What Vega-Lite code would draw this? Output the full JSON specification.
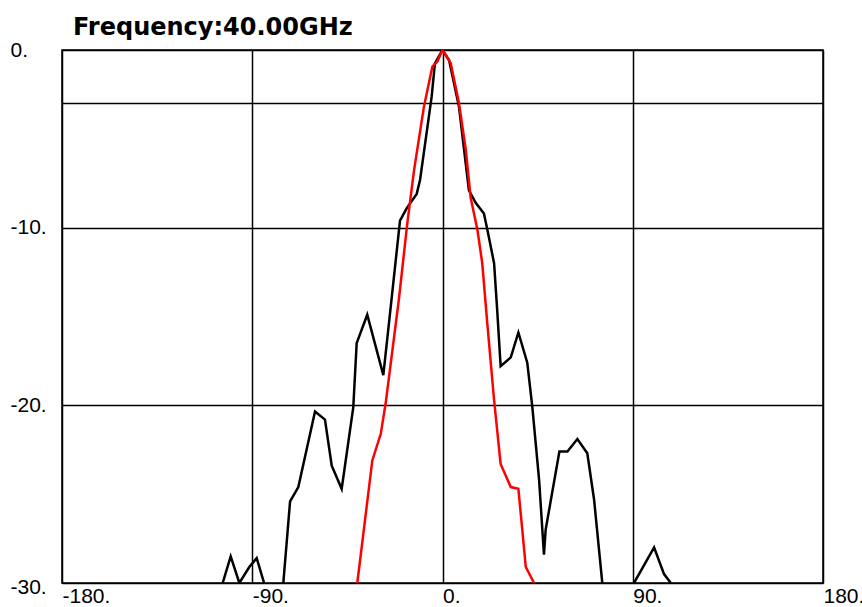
{
  "$schema": "https://vega.github.io/schema/vega-lite/v6.json",
  "autosize": {"type": "none"},
  "padding": {"left": 62, "top": 50, "right": 39, "bottom": 24},
  "width": 761,
  "height": 533,
  "background": "white",
  "title": {"text": "Frequency:40.00GHz", "anchor": "start", "frame": "group", "dx": 11, "dy": 26, "offset": 6, "baseline": "alphabetic", "font": "DejaVu Sans", "fontSize": 24, "fontWeight": "bold", "color": "black"},
  "config": {
    "view": {"stroke": "black", "strokeWidth": 1.5},
    "axis": {"labelFont": "Liberation Sans", "labelFontSize": 21, "labelColor": "black", "domain": false, "ticks": false, "tickSize": 0, "gridColor": "black", "gridOpacity": 1, "gridWidth": 1.5}
  },
  "data": {"values": [
    {"s": "meas", "x": -104, "y": -30},
    {"s": "meas", "x": -100.2, "y": -28.5},
    {"s": "meas", "x": -96.1, "y": -30},
    {"s": "meas", "x": -91.4, "y": -29.1},
    {"s": "meas", "x": -87.9, "y": -28.6},
    {"s": "meas", "x": -84.4, "y": -30},
    {"s": "meas", "x": -82, "y": -32},
    {"s": "meas", "x": -77, "y": -32},
    {"s": "meas", "x": -75.3, "y": -30},
    {"s": "meas", "x": -72.1, "y": -25.4},
    {"s": "meas", "x": -68.2, "y": -24.6},
    {"s": "meas", "x": -60.3, "y": -20.35},
    {"s": "meas", "x": -55.6, "y": -20.8},
    {"s": "meas", "x": -52.4, "y": -23.4},
    {"s": "meas", "x": -47.7, "y": -24.7},
    {"s": "meas", "x": -42.2, "y": -20.1},
    {"s": "meas", "x": -40.6, "y": -16.5},
    {"s": "meas", "x": -35.6, "y": -14.9},
    {"s": "meas", "x": -28, "y": -18.3},
    {"s": "meas", "x": -24.8, "y": -14.8},
    {"s": "meas", "x": -20.1, "y": -9.6},
    {"s": "meas", "x": -16.9, "y": -8.9},
    {"s": "meas", "x": -12.2, "y": -8.1},
    {"s": "meas", "x": -10.6, "y": -7.3},
    {"s": "meas", "x": -5.1, "y": -2.6},
    {"s": "meas", "x": -3.6, "y": -0.75},
    {"s": "meas", "x": 0, "y": 0},
    {"s": "meas", "x": 3.1, "y": -0.56},
    {"s": "meas", "x": 7.8, "y": -3.2},
    {"s": "meas", "x": 12.5, "y": -7.9},
    {"s": "meas", "x": 15.7, "y": -8.6},
    {"s": "meas", "x": 19.6, "y": -9.2},
    {"s": "meas", "x": 21.2, "y": -10.1},
    {"s": "meas", "x": 24.4, "y": -12},
    {"s": "meas", "x": 25.8, "y": -14.5},
    {"s": "meas", "x": 27.5, "y": -17.8},
    {"s": "meas", "x": 32.3, "y": -17.3},
    {"s": "meas", "x": 35.9, "y": -15.9},
    {"s": "meas", "x": 40.1, "y": -17.6},
    {"s": "meas", "x": 42.5, "y": -20.1},
    {"s": "meas", "x": 45.7, "y": -24.2},
    {"s": "meas", "x": 48, "y": -28.4},
    {"s": "meas", "x": 48.8, "y": -27},
    {"s": "meas", "x": 55.3, "y": -22.6},
    {"s": "meas", "x": 59.1, "y": -22.6},
    {"s": "meas", "x": 63.8, "y": -21.9},
    {"s": "meas", "x": 68.5, "y": -22.7},
    {"s": "meas", "x": 71.7, "y": -25.3},
    {"s": "meas", "x": 75.6, "y": -30},
    {"s": "meas", "x": 78, "y": -33},
    {"s": "meas", "x": 88, "y": -33},
    {"s": "meas", "x": 90.6, "y": -30},
    {"s": "meas", "x": 100.1, "y": -28},
    {"s": "meas", "x": 104.8, "y": -29.5},
    {"s": "meas", "x": 108, "y": -30},
    {"s": "sim", "x": -40.3, "y": -30},
    {"s": "sim", "x": -33.2, "y": -23.1},
    {"s": "sim", "x": -29.2, "y": -21.6},
    {"s": "sim", "x": -26.9, "y": -19.9},
    {"s": "sim", "x": -20.6, "y": -14},
    {"s": "sim", "x": -16.7, "y": -9.8},
    {"s": "sim", "x": -13.5, "y": -6.8},
    {"s": "sim", "x": -8.8, "y": -3.2},
    {"s": "sim", "x": -4.8, "y": -0.94},
    {"s": "sim", "x": -2.5, "y": -0.66},
    {"s": "sim", "x": 0, "y": 0},
    {"s": "sim", "x": 3.9, "y": -0.75},
    {"s": "sim", "x": 7.8, "y": -3},
    {"s": "sim", "x": 11, "y": -5.6},
    {"s": "sim", "x": 13.3, "y": -8.3},
    {"s": "sim", "x": 16.5, "y": -10.1},
    {"s": "sim", "x": 18.8, "y": -12},
    {"s": "sim", "x": 21.2, "y": -15.4},
    {"s": "sim", "x": 24.4, "y": -19.7},
    {"s": "sim", "x": 27.5, "y": -23.3},
    {"s": "sim", "x": 32.3, "y": -24.6},
    {"s": "sim", "x": 35.9, "y": -24.7},
    {"s": "sim", "x": 39.4, "y": -29.1},
    {"s": "sim", "x": 43.3, "y": -30}
  ]},
  "mark": {"type": "line", "clip": true, "strokeWidth": 2.5, "interpolate": "linear"},
  "encoding": {
    "x": {"field": "x", "type": "quantitative", "scale": {"domain": [-180, 180], "nice": false, "zero": false},
      "axis": {"title": null, "values": [-180, -90, 0, 90, 180], "grid": true, "labelAlign": "left", "labelBaseline": "top", "labelPadding": 2, "labelFlush": false, "labelOverlap": false, "labelBound": false, "labelExpr": "datum.value + '.'"}},
    "y": {"field": "y", "type": "quantitative", "scale": {"domain": [-30, 0], "nice": false, "zero": false},
      "axis": {"title": null, "values": [0, -3, -10, -20, -30], "grid": true, "labelAlign": "left", "labelBaseline": "middle", "labelPadding": 52, "labelOffset": {"condition": {"test": "datum.value == -30", "value": 4}, "value": 0}, "labelFlush": false, "labelOverlap": false, "labelBound": false, "labelExpr": "datum.value == -3 ? '' : datum.value + '.'"}},
    "color": {"field": "s", "type": "nominal", "scale": {"domain": ["meas", "sim"], "range": ["black", "#ff0000"]}, "legend": null},
    "order": {"field": "x", "type": "quantitative"}
  }
}
